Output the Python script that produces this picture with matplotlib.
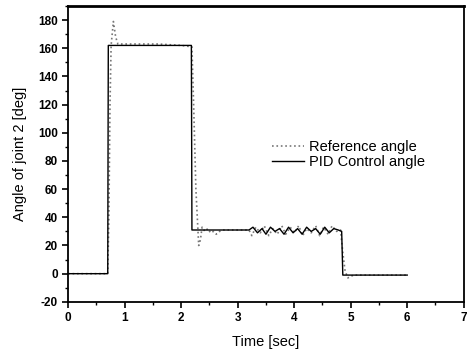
import matplotlib.pyplot as plt
from matplotlib.ticker import MultipleLocator

plt.rcParams['font.family'] = ['Liberation Sans', 'DejaVu Sans']
plt.rcParams['axes.unicode_minus'] = False

# reference angle (dotted, overshooting)
t_ref = [0.0, 0.70, 0.72, 0.74, 0.76, 0.80, 0.84, 0.88, 0.95, 1.2, 1.6, 2.0, 2.19,
         2.22, 2.26, 2.31, 2.34, 2.37, 2.42, 2.47, 2.52, 2.57, 2.62, 2.68, 2.75, 3.0, 3.2,
         3.25, 3.32, 3.40, 3.47, 3.55, 3.62, 3.70, 3.78, 3.85, 3.93, 4.00, 4.08, 4.15,
         4.22, 4.30, 4.38, 4.45, 4.52, 4.60, 4.67, 4.75, 4.82, 4.86, 4.90, 4.95, 5.00,
         5.05, 5.2, 6.0]
y_ref = [0, 0, 40, 120, 162, 179, 168, 163, 163, 163, 163, 162, 161,
         120, 60, 20, 24, 33, 30, 32, 29, 30, 28, 30, 31, 31, 31,
         27, 33, 29, 34, 27, 32, 28, 34, 28, 33, 29, 34, 27,
         32, 29, 34, 27, 33, 28, 34, 30, 31, 15, 2, -3, -2,
         -1, -1, -1]

# PID control angle (solid step)
t_pid = [0.0, 0.70, 0.71, 2.18, 2.19, 3.2, 3.27, 3.35, 3.43, 3.50, 3.58, 3.66, 3.74,
         3.82, 3.90, 3.98, 4.06, 4.14, 4.22, 4.30, 4.38, 4.46, 4.54, 4.62, 4.70, 4.78,
         4.84, 4.86, 6.0]
y_pid = [0, 0, 162, 162, 31, 31, 33, 29, 32, 28, 33, 30, 32,
         28, 33, 29, 32, 28, 33, 30, 32, 28, 33, 29, 32, 31,
         30, -1, -1]

fig, ax = plt.subplots(figsize=(4.67, 3.51), dpi=100)
fig.subplots_adjust(left=0.146, right=0.993, top=0.983, bottom=0.14)

ax.plot(t_ref, y_ref, color='#777777', linestyle=':', linewidth=1.2, label='Reference angle')
ax.plot(t_pid, y_pid, color='black', linewidth=1.0, label='PID Control angle')

ax.set_xlim(0, 7)
ax.set_ylim(-20, 190)
ax.xaxis.set_major_locator(MultipleLocator(1))
ax.xaxis.set_minor_locator(MultipleLocator(0.5))
ax.yaxis.set_minor_locator(MultipleLocator(10))
ax.set_yticks(range(-20, 181, 20))
ax.tick_params(which='major', direction='out', length=4, width=1.2, top=False, right=False,
               labelsize=8.5)
ax.tick_params(which='minor', direction='out', length=2, width=1.0, top=False, right=False)
for lab in ax.get_xticklabels() + ax.get_yticklabels():
    lab.set_fontweight('bold')

for s in ax.spines.values():
    s.set_linewidth(1.3)
ax.spines['top'].set_linewidth(2.0)

ax.set_xlabel('Time [sec]', fontsize=10.5, labelpad=8)
ax.set_ylabel('Angle of joint 2 [deg]', fontsize=10.5, labelpad=8)

ax.legend(loc='center left', bbox_to_anchor=(0.516, 0.497), frameon=False, fontsize=10.5,
          handlelength=2.2, handletextpad=0.3, labelspacing=0.05,
          borderpad=0, borderaxespad=0)

fig.savefig('out.png', dpi=100)
